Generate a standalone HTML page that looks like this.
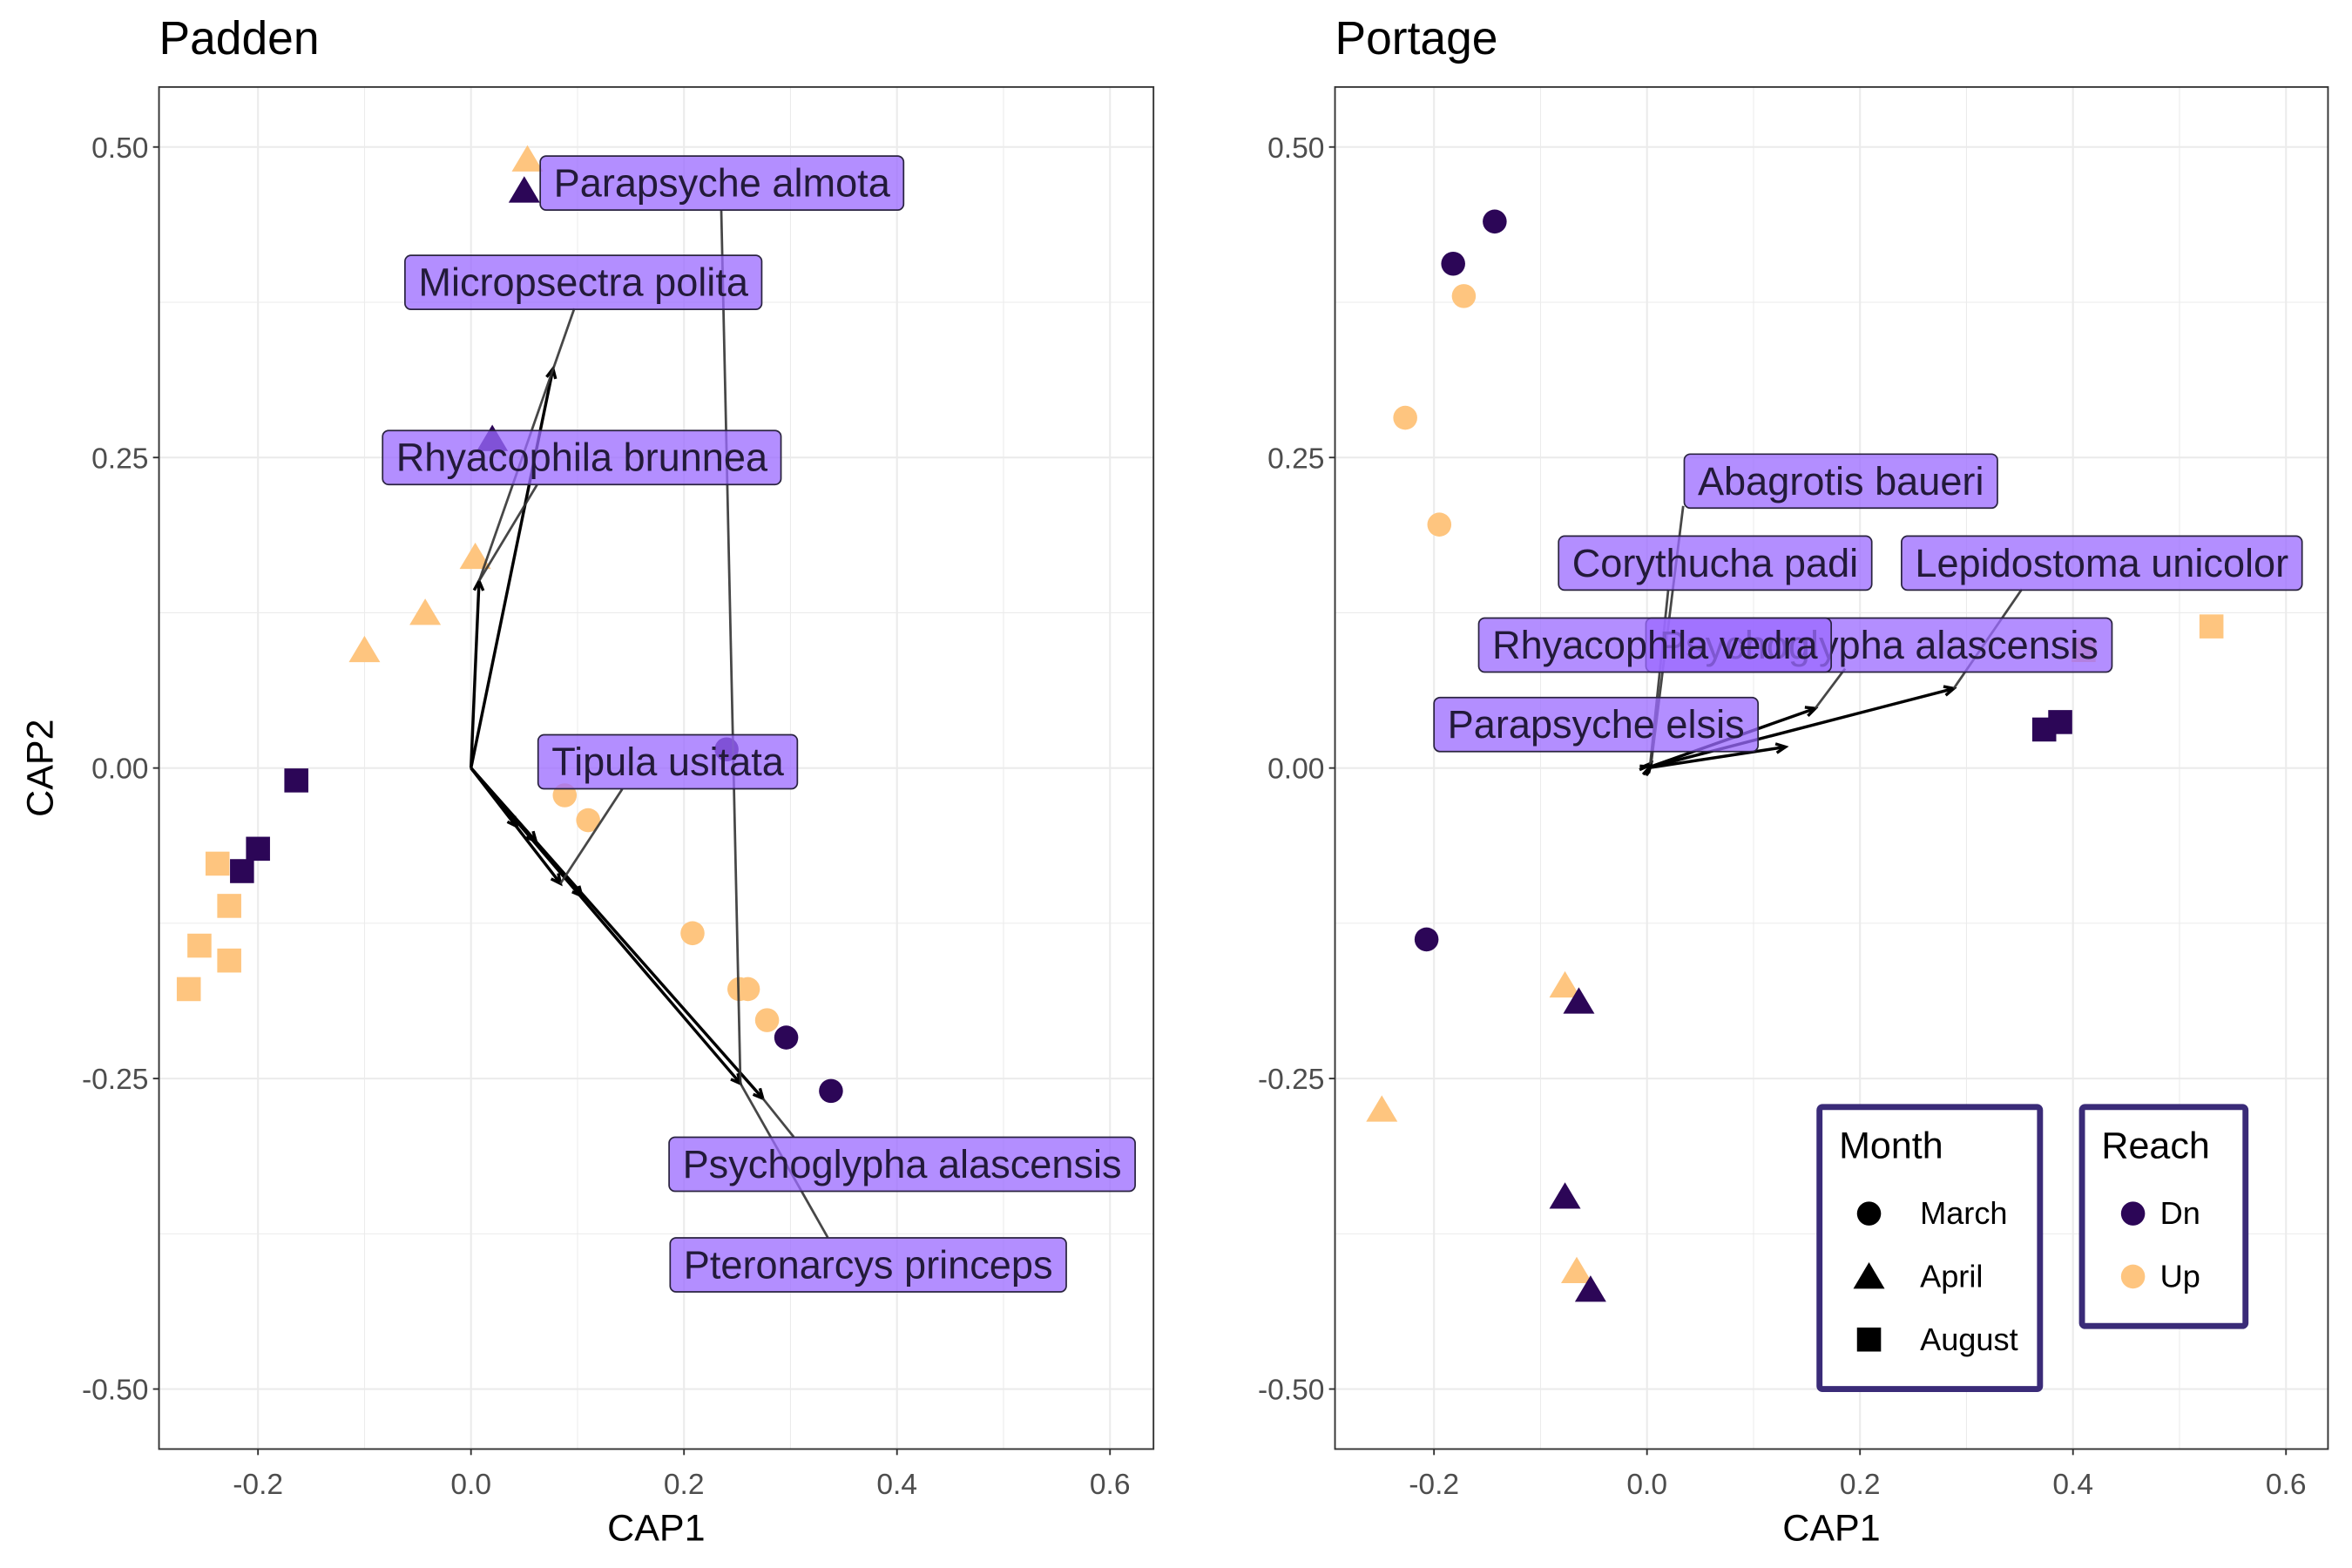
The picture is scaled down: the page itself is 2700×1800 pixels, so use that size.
<!DOCTYPE html>
<html><head><meta charset="utf-8"><style>html,body{margin:0;padding:0;background:#fff}svg{display:block}</style></head>
<body>
<svg id="chart" xmlns="http://www.w3.org/2000/svg" width="2700" height="1800" viewBox="0 0 1568 1045.3" preserveAspectRatio="none" font-family="Liberation Sans, Arial, sans-serif">
<rect width="1568" height="1046" fill="#fff"/>
</svg>
<script>
// ---- data ----
const paddenMonth = ['April','April','April','April','April','April','August','August','August','August','August','August','August','August','March','March','March','March','March','March','March','March','March'];
const paddenReach = ['Up','Dn','Dn','Up','Up','Up','Dn','Dn','Dn','Up','Up','Up','Up','Up','Dn','Up','Up','Up','Up','Up','Up','Dn','Dn'];
const paddenX = [0.053,0.05,0.02,0.004,-0.043,-0.1,-0.164,-0.2,-0.215,-0.238,-0.227,-0.255,-0.227,-0.265,0.24,0.088,0.11,0.208,0.252,0.26,0.278,0.296,0.338];
const paddenY = [0.49,0.465,0.265,0.17,0.125,0.095,-0.01,-0.065,-0.083,-0.077,-0.111,-0.143,-0.155,-0.178,0.015,-0.022,-0.042,-0.133,-0.178,-0.178,-0.203,-0.217,-0.26];
const paddenArrowX = [0.077,0.0076,0.043,0.061,0.084,0.104,0.253,0.274];
const paddenArrowY = [0.3215,0.1506,-0.047,-0.059,-0.093,-0.103,-0.254,-0.266];
const paddenLabels = ['Parapsyche almota','Micropsectra polita','Rhyacophila brunnea','Tipula usitata','Psychoglypha alascensis','Pteronarcys princeps'];
const paddenLabelX = [0.065,-0.062,-0.083,0.063,0.186,0.187];
const paddenLabelY = [0.471,0.391,0.25,0.005,-0.319,-0.40];
const paddenLabelArrow = [6,1,1,4,7,6];
const paddenSegX = [0.235,0.097,0.062,0.142,0.303,0.335];
const paddenSegY = [0.449,0.37,0.228,-0.017,-0.297,-0.378];

const portageMonth = ['March','March','March','March','March','March','August','August','August','August','April','April','April','April','April','April'];
const portageReach = ['Dn','Dn','Dn','Up','Up','Up','Up','Up','Dn','Dn','Up','Dn','Up','Dn','Up','Dn'];
const portageX = [-0.143,-0.182,-0.207,-0.172,-0.227,-0.195,0.53,0.41,0.373,0.388,-0.077,-0.064,-0.249,-0.077,-0.066,-0.053];
const portageY = [0.44,0.406,-0.138,0.38,0.282,0.196,0.114,0.095,0.031,0.037,-0.175,-0.188,-0.275,-0.345,-0.405,-0.42];
const portageArrowX = [0.158,0.288,0.13,0.004,0.003,0.002,0.003];
const portageArrowY = [0.048,0.064,0.017,0.004,0.003,0.002,0.001];
const portageLabels = ['Abagrotis baueri','Corythucha padi','Lepidostoma unicolor','Psychoglypha alascensis','Rhyacophila vedra','Parapsyche elsis'];
const portageLabelX = [0.035,-0.083,0.239,-0.001,-0.158,-0.2];
const portageLabelY = [0.231,0.165,0.165,0.099,0.099,0.035];
const portageLabelArrow = [3,4,1,0,-1,-1];
const portageSegX = [0.034,0.020,0.352,0.186,0,0];
const portageSegY = [0.211,0.144,0.144,0.08,0,0];

const xTicks = [-0.2,0.0,0.2,0.4,0.6];
const xTickLabels = ['-0.2','0.0','0.2','0.4','0.6'];
const yTicks = [0.5,0.25,0,-0.25,-0.5];
const yTickLabels = ['0.50','0.25','0.00','-0.25','-0.50'];
const monthLevels = ['March','April','August'];
const reachLevels = ['Dn','Up'];

// ---- rendering ----
const NS='http://www.w3.org/2000/svg';
const svg=document.getElementById('chart');
const COL={Dn:'#2c0657',Up:'#fec57f'};
function mk(tag,attrs,parent){const e=document.createElementNS(NS,tag);for(const k in attrs)e.setAttribute(k,attrs[k]);(parent||svg).appendChild(e);return e;}
function txt(s,attrs,parent){const e=mk('text',attrs,parent);e.textContent=s;return e;}
function shape(g,m,cx,cy,fill,s){let e;
 if(m==='March'){e=mk('circle',{cx:cx,cy:cy,r:8*s,fill:fill},g);}
 else if(m==='April'){const h=9.5*s;e=mk('polygon',{points:`${cx},${cy-h} ${cx-h*1.1},${cy+h*0.85} ${cx+h*1.1},${cy+h*0.85}`,fill:fill},g);}
 else {const h=8*s;e=mk('rect',{x:cx-h,y:cy-h,width:2*h,height:2*h,fill:fill},g);}
 return e;}
function panel(name,title,L,R,x0px,mon,rea,X,Y,ax,ay,labs,lx,ly,la,segX,segY){
 const T=58,B=966;
 const sx=v=>x0px+v*710, sy=v=>512-v*828;
 const g=mk('g',{});
 
 
 mk('rect',{x:L,y:T,width:R-L,height:B-T,fill:'#fff'},g);
 [-0.3,-0.1,0.1,0.3,0.5].forEach(v=>{const x=sx(v);if(x>L&&x<R)mk('line',{x1:x,x2:x,y1:T,y2:B,stroke:'#ebebeb','stroke-width':0.6},g);});
 [0.375,0.125,-0.125,-0.375].forEach(v=>mk('line',{x1:L,x2:R,y1:sy(v),y2:sy(v),stroke:'#ebebeb','stroke-width':0.6},g));
 xTicks.forEach(v=>mk('line',{x1:sx(v),x2:sx(v),y1:T,y2:B,stroke:'#ebebeb','stroke-width':1.2},g));
 yTicks.forEach(v=>mk('line',{x1:L,x2:R,y1:sy(v),y2:sy(v),stroke:'#ebebeb','stroke-width':1.2},g));
 X.forEach((v,i)=>{const p=shape(g,mon[i],sx(v),sy(Y[i]),COL[rea[i]],1);
  
  });
 ax.forEach((v,i)=>{const x1=sx(0),y1=sy(0),x2=sx(v),y2=sy(ay[i]);
  const a=mk('g',{},g);
  
  
  mk('line',{x1:x1,y1:y1,x2:x2,y2:y2,stroke:'#000','stroke-width':2},a);
  const ang=Math.atan2(y2-y1,x2-x1),h=7,w=0.45;
  mk('polyline',{points:`${x2-h*Math.cos(ang-w)},${y2-h*Math.sin(ang-w)} ${x2},${y2} ${x2-h*Math.cos(ang+w)},${y2-h*Math.sin(ang+w)}`,fill:'none',stroke:'#000','stroke-width':2},a);});
 labs.forEach((s,i)=>{if(la[i]<0)return;
  const ln=mk('line',{x1:sx(segX[i]),y1:sy(segY[i]),x2:sx(ax[la[i]]),y2:sy(ay[la[i]]),stroke:'#333','stroke-width':1.6,'stroke-opacity':0.9},g);
  
  });
 labs.forEach((s,i)=>{const bx=sx(lx[i]),by=sy(ly[i]);
  const lg=mk('g',{},g);
  
  
  const r=mk('rect',{x:bx,y:by-18,width:100,height:36,rx:4,fill:'#9b6bff','fill-opacity':0.76,stroke:'#2a2340','stroke-width':1},lg);
  const t=txt(s,{x:bx+9,y:by+9,'font-size':26.2,fill:'#231a3a'},lg);
  const w=t.getComputedTextLength();r.setAttribute('width',w+18);});
 mk('rect',{x:L,y:T,width:R-L,height:B-T,fill:'none',stroke:'#333','stroke-width':1.1},g);
 xTicks.forEach((v,i)=>{mk('line',{x1:sx(v),x2:sx(v),y1:B,y2:B+4,stroke:'#333','stroke-width':1.1},g);
  const t=txt(xTickLabels[i],{x:sx(v),y:B+30,'font-size':19.5,'text-anchor':'middle',fill:'#4d4d4d'},g);
  });
 yTicks.forEach((v,i)=>{mk('line',{x1:L-4,x2:L,y1:sy(v),y2:sy(v),stroke:'#333','stroke-width':1.1},g);
  const t=txt(yTickLabels[i],{x:L-7,y:sy(v)+7,'font-size':19.5,'text-anchor':'end',fill:'#4d4d4d'},g);
  });
 const xt=txt('CAP1',{x:(L+R)/2,y:1027,'font-size':25,'text-anchor':'middle',fill:'#000'},g);
 
 const tt=txt(title,{x:L,y:36,'font-size':31,fill:'#000'},g);
 
 return g;}
panel('padden','Padden',106,769,314,paddenMonth,paddenReach,paddenX,paddenY,paddenArrowX,paddenArrowY,paddenLabels,paddenLabelX,paddenLabelY,paddenLabelArrow,paddenSegX,paddenSegY);
panel('portage','Portage',890,1552,1098,portageMonth,portageReach,portageX,portageY,portageArrowX,portageArrowY,portageLabels,portageLabelX,portageLabelY,portageLabelArrow,portageSegX,portageSegY);
const yt=txt('CAP2',{x:0,y:0,'font-size':25,'text-anchor':'middle',transform:'translate(35,512) rotate(-90)',fill:'#000'});


const lm=mk('g',{});


mk('rect',{x:1213,y:738,width:147,height:188,fill:'#fff',stroke:'#3a2b78','stroke-width':4,rx:2},lm);
txt('Month',{x:1226,y:772,'font-size':25,fill:'#000'},lm);
monthLevels.forEach((m,i)=>{const y=809+42*i;shape(lm,m,1246,y,'#000',1);
 const t=txt(m,{x:1280,y:y+7,'font-size':21,fill:'#000'},lm);
 });
const lr=mk('g',{});


mk('rect',{x:1388,y:738,width:109,height:146,fill:'#fff',stroke:'#3a2b78','stroke-width':4,rx:2},lr);
txt('Reach',{x:1401,y:772,'font-size':25,fill:'#000'},lr);
reachLevels.forEach((m,i)=>{const y=809+42*i;mk('circle',{cx:1422,cy:y,r:8,fill:COL[m]},lr);
 const t=txt(m,{x:1440,y:y+7,'font-size':21,fill:'#000'},lr);
 });
</script>
</body></html>
